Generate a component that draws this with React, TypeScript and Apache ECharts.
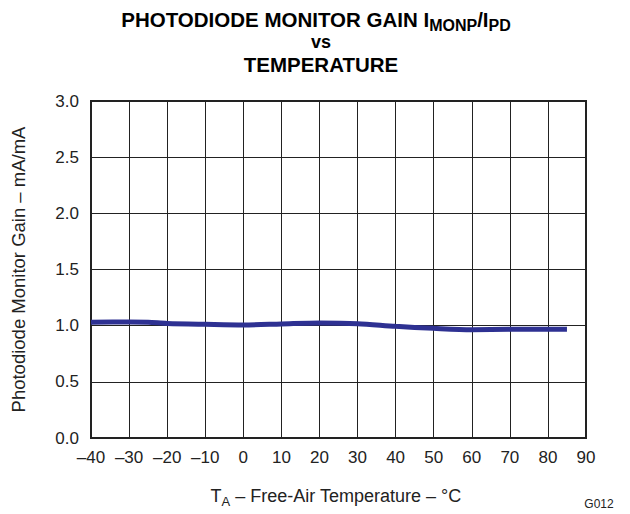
import React, { useEffect, useRef } from "react";
import * as echarts from "echarts";

const temperatures = [-40, -30, -25, -20, -10, 0, 10, 20, 30, 40, 50, 60, 70, 80, 85];
const gain = [1.03, 1.033, 1.03, 1.02, 1.012, 1.006, 1.015, 1.024, 1.018, 0.994, 0.976, 0.964, 0.967, 0.967, 0.967];
const xTicks = [-40, -30, -20, -10, 0, 10, 20, 30, 40, 50, 60, 70, 80, 90];
const yTicks = [0, 0.5, 1.0, 1.5, 2.0, 2.5, 3.0];

const FONT_NAME = "Liberation Sans";
const FONT = "'Liberation Sans', Arial, sans-serif";

type Part = { text: string; size: number; bold?: boolean; dy: number; lh: number };

const titleLine1: Part[] = [
  { text: "PHOTODIODE MONITOR GAIN I", size: 20.5, bold: true, dy: 0, lh: 14 },
  { text: "MONP", size: 16, bold: true, dy: 5.5, lh: 10 },
  { text: "/I", size: 20.5, bold: true, dy: 0, lh: 14 },
  { text: "PD", size: 16, bold: true, dy: 5.5, lh: 10 },
];
const xName: Part[] = [
  { text: "T", size: 18, dy: 0, lh: 16 },
  { text: "A", size: 13, dy: 5.5, lh: 10 },
  { text: " \u2013 Free-Air Temperature \u2013 \u00B0C", size: 18, dy: 0, lh: 16 },
];

function buildLine(parts: Part[], cx: number, cy: number, color: string) {
  const canvas = document.createElement("canvas");
  const ctx = canvas.getContext("2d")!;
  const widths = parts.map((p) => {
    ctx.font = `${p.bold ? "bold " : ""}${p.size}px "${FONT_NAME}"`;
    return ctx.measureText(p.text).width;
  });
  const total = widths.reduce((a, b) => a + b, 0);
  let x = cx - total / 2;
  return parts.map((p, i) => {
    const el = {
      type: "text",
      x,
      y: cy + p.dy,
      silent: true,
      style: {
        text: p.text,
        fill: color,
        fontSize: p.size,
        fontWeight: p.bold ? "bold" : "normal",
        fontFamily: FONT,
        align: "left",
        verticalAlign: "middle",
        lineHeight: p.lh,
      },
    };
    x += widths[i];
    return el;
  });
}

export default function App() {
  const ref = useRef<HTMLDivElement>(null);
  useEffect(() => {
    if (!ref.current) return;
    const chart = echarts.init(ref.current, null, { renderer: "svg" });
    chart.setOption({
      animation: false,
      backgroundColor: "#ffffff",
      textStyle: { fontFamily: FONT },
      grid: {
        left: 91,
        top: 101,
        width: 495,
        height: 337,
        show: true,
        borderColor: "#222",
        borderWidth: 2,
        backgroundColor: "transparent",
      },
      xAxis: {
        type: "value",
        min: xTicks[0],
        max: xTicks[xTicks.length - 1],
        interval: 10,
        axisLine: { show: false },
        axisTick: { show: false },
        splitLine: { show: true, lineStyle: { color: "#222", width: 1 } },
        axisLabel: {
          color: "#222",
          fontSize: 17,
          fontFamily: FONT,
          margin: 11,
          formatter: (v: number) => (v < 0 ? "\u2013" + -v : String(v)),
        },
      },
      yAxis: {
        type: "value",
        min: yTicks[0],
        max: yTicks[yTicks.length - 1],
        interval: 0.5,
        axisLine: { show: false },
        axisTick: { show: false },
        splitLine: { show: true, lineStyle: { color: "#222", width: 1 } },
        axisLabel: {
          color: "#222",
          fontSize: 17,
          fontFamily: FONT,
          margin: 12,
          formatter: (v: number) => v.toFixed(1),
        },
        name: "Photodiode Monitor Gain \u2013 mA/mA",
        nameLocation: "middle",
        nameGap: 63,
        nameTextStyle: { color: "#222", fontSize: 18.5, fontFamily: FONT },
      },
      graphic: [
        ...buildLine(titleLine1, 316, 19.5, "#000"),
        {
          type: "text",
          x: 321,
          y: 41.8,
          silent: true,
          style: {
            text: "vs",
            fill: "#000",
            fontSize: 18,
            fontWeight: "bold",
            fontFamily: FONT,
            align: "center",
            verticalAlign: "middle",
            lineHeight: 14,
          },
        },
        {
          type: "text",
          x: 321,
          y: 64,
          silent: true,
          style: {
            text: "TEMPERATURE",
            fill: "#000",
            fontSize: 20.5,
            fontWeight: "bold",
            fontFamily: FONT,
            align: "center",
            verticalAlign: "middle",
            lineHeight: 14,
          },
        },
        ...buildLine(xName, 336, 496, "#222"),
        {
          type: "text",
          x: 599,
          y: 504,
          silent: true,
          style: { text: "G012", fill: "#222", fontSize: 12, fontFamily: FONT, align: "center", verticalAlign: "middle" },
        },
      ],
      series: [
        {
          type: "line",
          data: temperatures.map((t, i) => [t, gain[i]]),
          smooth: 0.3,
          symbol: "none",
          lineStyle: { color: "#2E3192", width: 5 },
        },
      ],
    });
    return () => chart.dispose();
  }, []);
  return <div ref={ref} style={{ width: 630, height: 514, position: "absolute", left: 0, top: 0 }} />;
}
